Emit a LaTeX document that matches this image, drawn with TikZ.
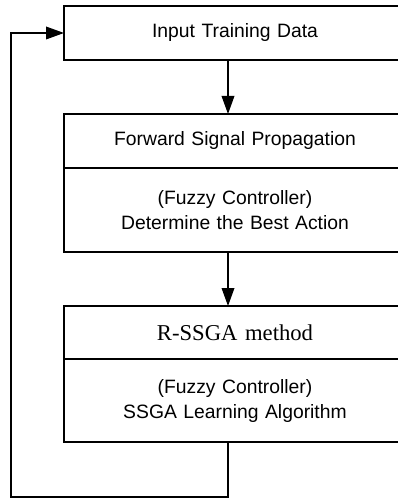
\documentclass[tikz,border=0pt]{standalone}
\usepackage{fontspec}
\setmainfont{Liberation Sans}
\newfontfamily\serifface{Liberation Serif}
\usetikzlibrary{arrows.meta, positioning}

\begin{document}
\begin{tikzpicture}[x=0.75pt, y=-0.75pt,
    box/.style={rectangle, draw, line width=1pt, inner sep=0pt, outer sep=0pt,
        minimum width=256.5pt, text width=250pt, align=center,
        font=\fontsize{14.5}{18.75}\selectfont},
    arrow/.style={line width=1pt, -{Triangle[length=13.5pt, width=9.5pt]}}]

    \useasboundingbox (0,0) rectangle (398,498);
    \clip (0,0) rectangle (398,498);

    \node [box, minimum height=40.5pt, anchor=north west] (input) at (64,6) {Input Training Data};
    \node [box, minimum height=40.5pt, below=40.5pt of input] (forward) {Forward Signal Propagation};
    \node [box, minimum height=63pt, below=0pt of forward] (action) {(Fuzzy Controller)\\Determine the Best Action};
    \node [box, minimum height=39.75pt, below=40.5pt of action, font=\serifface\fontsize{17}{20}\selectfont] (rssga) {R-SSGA method};
    \node [box, minimum height=62.25pt, below=0pt of rssga] (learn) {(Fuzzy Controller)\\SSGA Learning Algorithm};

    \coordinate (axis) at (228,0);
    \coordinate (loop) at (11,497);

    \draw [arrow] (input.south -| axis) -- (forward.north -| axis);
    \draw [arrow] (action.south -| axis) -- (rssga.north -| axis);
    \draw [arrow] (learn.south -| axis) |- (loop) |- (input.west);
\end{tikzpicture}
\end{document}
